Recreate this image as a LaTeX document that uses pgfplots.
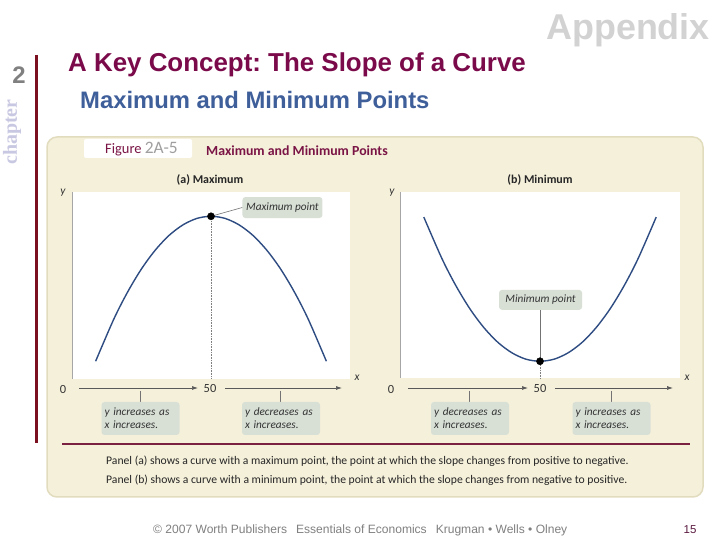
\documentclass[border=0pt]{standalone}
\usepackage{fontspec}
\setmainfont{Liberation Sans}
\newfontfamily\figfont{Carlito}
\newfontfamily\serifbold{Liberation Serif}
\usepackage{pgfplots}
\pgfplotsset{compat=1.18}
\usetikzlibrary{arrows.meta}
\definecolor{appgray}{HTML}{D2D2D2}
\definecolor{titlemaroon}{HTML}{7A0A4A}
\definecolor{subblue}{HTML}{3F5F9A}
\definecolor{lav}{HTML}{C8C8E2}
\definecolor{redline}{HTML}{7A1020}
\definecolor{panel}{HTML}{F5F0DA}
\definecolor{panelborder}{HTML}{E2DCBE}
\definecolor{figmaroon}{HTML}{7A1445}
\definecolor{boxfill}{HTML}{D8E0D6}
\definecolor{curve}{HTML}{2E4C82}
\definecolor{rule}{HTML}{7A2040}
\definecolor{pagenum}{HTML}{5A1A40}
\definecolor{foot}{HTML}{808080}
\begin{document}
\frenchspacing
\begin{tikzpicture}[x=1bp,y=1bp]
\fill[white] (0,0) rectangle (720,540);
% slide header
\node[anchor=base east, text=appgray, font=\bfseries\fontsize{36}{36}\selectfont, inner sep=0] at (710,500) {Appendix};
\node[anchor=base west, text=titlemaroon, font=\bfseries\fontsize{26}{26}\selectfont, inner sep=0] at (68,468) {A Key Concept: The Slope of a Curve};
\node[anchor=base west, text=subblue, font=\bfseries\fontsize{23.9}{24}\selectfont, inner sep=0] at (80,431) {Maximum and Minimum Points};
\node[text=gray, font=\bfseries\fontsize{24}{24}\selectfont, inner sep=0] at (19,465) {2};
\node[rotate=90, text=lav, font=\serifbold\bfseries\fontsize{20}{20}\selectfont, inner sep=0] at (12,408) {chapter};
\draw[redline, line width=3bp] (36,485) -- (36,97);
% panel
\draw[draw=panelborder, fill=panel, rounded corners=10bp, line width=1.5bp] (47,43) rectangle (703,403);
\fill[white, rounded corners=2bp] (84,382) rectangle (192,401);
\node[anchor=west, inner sep=0, font=\figfont\fontsize{14.5}{14}\selectfont] at (105,390.5) {\textcolor{figmaroon}{Figure} \textcolor{gray!75}{\fontsize{17.5}{15}\selectfont 2A-5}};
\node[anchor=west, inner sep=0, font=\figfont\bfseries\fontsize{13.9}{14}\selectfont, text=figmaroon] at (206,389) {Maximum and Minimum Points};
\node[inner sep=0, font=\figfont\bfseries\fontsize{12}{12}\selectfont, text=black!85] at (210,360) {(a) Maximum};
\node[inner sep=0, font=\figfont\bfseries\fontsize{12}{12}\selectfont, text=black!85] at (540,360) {(b) Minimum};
% left axis
\begin{axis}[at={(72bp,161bp)}, anchor=south west, scale only axis, width=278bp, height=187bp,
  xmin=0, xmax=100, ymin=0, ymax=100, axis line style={draw=none}, ticks=none,
  axis background/.style={fill=white}, clip=false]
\draw[black!35, line width=1bp] (rel axis cs:0,0) -- (rel axis cs:0,1);
\addplot[black!50, densely dotted, line width=0.6bp] coordinates {(50,87) (50,0)};
\addplot[curve, line width=1.4bp, smooth] coordinates {
(8.5,9.5) (15,31.9) (20,46.5) (25,58.9) (30,69) (35,76.9) (40,82.5) (45,85.9) (50,87)
(55,85.9) (60,82.5) (65,76.9) (70,69) (75,58.9) (80,46.5) (85,31.9) (91.5,9.5)};
\node[fill=boxfill, rounded corners=3bp, inner sep=0, minimum width=80bp, minimum height=21bp,
  font=\figfont\itshape\fontsize{11.3}{12}\selectfont, text=black!80] (maxlab) at (axis cs:75.7,91.7) {Maximum point};
\draw[black!55, line width=0.6bp] (axis cs:50,87) -- (maxlab.west);
\addplot[only marks, mark=*, mark size=3.6bp, black] coordinates {(50,87)};
\end{axis}
% right axis
\begin{axis}[at={(400bp,162bp)}, anchor=south west, scale only axis, width=280bp, height=186bp,
  xmin=0, xmax=100, ymin=0, ymax=100, axis line style={draw=none}, ticks=none,
  axis background/.style={fill=white}, clip=false]
\draw[black!35, line width=1bp] (rel axis cs:0,0) -- (rel axis cs:0,1);
\addplot[black!50, densely dotted, line width=0.6bp] coordinates {(50,8.6) (50,0)};
\addplot[curve, line width=1.4bp, smooth] coordinates {
(8.5,86.5) (15,64.1) (20,49.5) (25,37.1) (30,27) (35,19.1) (40,13.5) (45,10.1) (50,9)
(55,10.1) (60,13.5) (65,19.1) (70,27) (75,37.1) (80,49.5) (85,64.1) (91.5,86.5)};
\node[fill=boxfill, rounded corners=3bp, inner sep=0, minimum width=83bp, minimum height=20bp,
  font=\figfont\itshape\fontsize{11.3}{12}\selectfont, text=black!80] (minlab) at (axis cs:50.2,42) {Minimum point};
\draw[black!55, line width=0.6bp] (minlab.south) -- (axis cs:50.2,9);
\addplot[only marks, mark=*, mark size=3.6bp, black] coordinates {(50,9)};
\end{axis}
% axis labels
\begin{scope}[every node/.style={inner sep=0, font=\figfont\itshape\fontsize{11.5}{11}\selectfont, text=black!80}]
\node at (63,347) {y};
\node at (357,162) {x};
\node at (392,347) {y};
\node at (687,162) {x};
\end{scope}
\begin{scope}[every node/.style={inner sep=0, font=\figfont\fontsize{12.5}{12}\selectfont, text=black!80}]
\node at (63,150) {0};
\node at (210,151) {50};
\node at (391,150) {0};
\node at (540,151) {50};
\end{scope}
\begin{scope}[black!65, line width=0.7bp, -{Latex[length=6bp,width=4bp]}]
\draw (79,152) -- (198,152);
\draw (225,152) -- (342,152);
\draw (408,152) -- (528,152);
\draw (555,152) -- (673,152);
\end{scope}
\begin{scope}[black!55, line width=0.6bp]
\draw (140,149) -- (140,138);
\draw (280,149) -- (280,138);
\draw (469,149) -- (469,138);
\draw (611,149) -- (611,138);
\end{scope}
\begin{scope}[every node/.style={fill=boxfill, rounded corners=3bp, inner xsep=3bp, inner ysep=0, minimum width=77bp, minimum height=33bp, text width=72bp,
  align=left, font=\figfont\itshape\fontsize{11.3}{12.8}\selectfont, text=black!80}]
\node at (140.5,121.5) {y increases as\\x increases.};
\node at (281,121.5) {y decreases as\\x increases.};
\node at (470,121.5) {y decreases as\\x increases.};
\node at (611.5,121.5) {y increases as\\x increases.};
\end{scope}
% rule and caption
\draw[rule, line width=2bp] (62,96) -- (690,96);
\node[anchor=west, inner sep=0, font=\figfont\fontsize{11.7}{12}\selectfont, text=black!85] at (106,79) {Panel (a) shows a curve with a maximum point, the point at which the slope changes from positive to negative.};
\node[anchor=west, inner sep=0, font=\figfont\fontsize{11.7}{12}\selectfont, text=black!85] at (106,60) {Panel (b) shows a curve with a minimum point, the point at which the slope changes from negative to positive.};
% footer
\node[anchor=west, inner sep=0, font=\fontsize{12.1}{11}\selectfont, text=foot] at (153,10) {\textcopyright{} 2007 Worth Publishers\hspace{9bp}Essentials of Economics\hspace{9bp}Krugman • Wells • Olney};
\node[inner sep=0, font=\fontsize{11.5}{11}\selectfont, text=pagenum] at (690,10) {15};
\end{tikzpicture}
\end{document}
